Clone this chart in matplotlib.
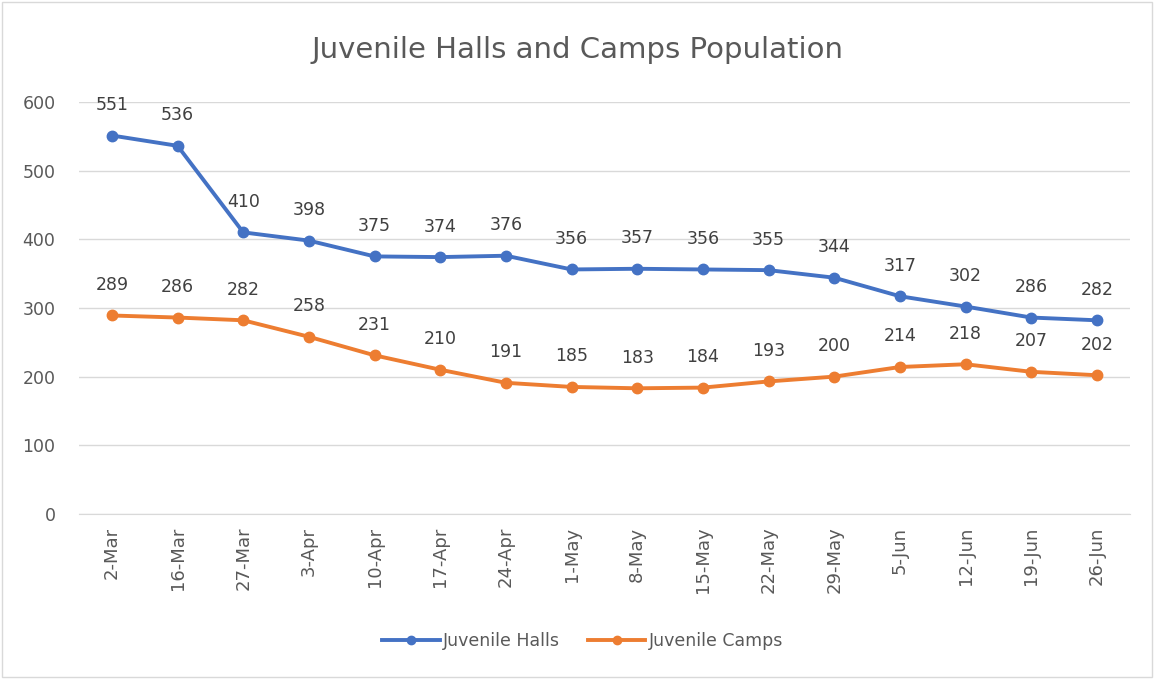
import matplotlib.pyplot as plt
from matplotlib.patches import Rectangle

dates = ['2-Mar', '16-Mar', '27-Mar', '3-Apr', '10-Apr', '17-Apr', '24-Apr', '1-May',
         '8-May', '15-May', '22-May', '29-May', '5-Jun', '12-Jun', '19-Jun', '26-Jun']
halls = [551, 536, 410, 398, 375, 374, 376, 356, 357, 356, 355, 344, 317, 302, 286, 282]
camps = [289, 286, 282, 258, 231, 210, 191, 185, 183, 184, 193, 200, 214, 218, 207, 202]

blue = '#4472C4'
orange = '#ED7D31'
txt = '#595959'

fig = plt.figure(figsize=(11.54, 6.79), dpi=100)
ax = fig.add_axes([0.0685, 0.243, 0.9105, 0.607])

x = list(range(len(dates)))
ax.plot(x, halls, color=blue, lw=2.8, marker='o', ms=7.5, label='Juvenile Halls', zorder=3)
ax.plot(x, camps, color=orange, lw=2.8, marker='o', ms=7.5, label='Juvenile Camps', zorder=3)

for series in (halls, camps):
    for xi, v in zip(x, series):
        ax.annotate(str(v), (xi, v), xytext=(0, 22), textcoords='offset points',
                    ha='center', va='center', fontsize=12.5, color='#404040')

ax.set_xlim(-0.5, len(dates) - 0.5)
ax.set_ylim(0, 600)
ax.set_yticks(range(0, 601, 100))
ax.set_xticks(x)
ax.set_xticklabels(dates, rotation=90, fontsize=13, color=txt)
ax.tick_params(axis='y', labelsize=12.5, labelcolor=txt, length=0, pad=17)
ax.tick_params(axis='x', length=0, pad=9)
ax.grid(axis='y', color='#D9D9D9', lw=1)
ax.set_axisbelow(True)
for s in ['top', 'right', 'left']:
    ax.spines[s].set_visible(False)
ax.spines['bottom'].set_color('#D9D9D9')

fig.text(0.5, 0.926, 'Juvenile Halls and Camps Population', ha='center', va='center',
         fontsize=21, color=txt)

fig.legend(loc='center', bbox_to_anchor=(0.505, 0.056), ncol=2, frameon=False,
           fontsize=12.5, labelcolor=txt, handlelength=3.3, handletextpad=0.2,
           columnspacing=1.6, markerscale=0.8)

fig.patches.append(Rectangle((0.002, 0.003), 0.996, 0.994, transform=fig.transFigure,
                             fill=False, edgecolor='#D9D9D9', lw=1))

fig.savefig('out.png', dpi=100)
